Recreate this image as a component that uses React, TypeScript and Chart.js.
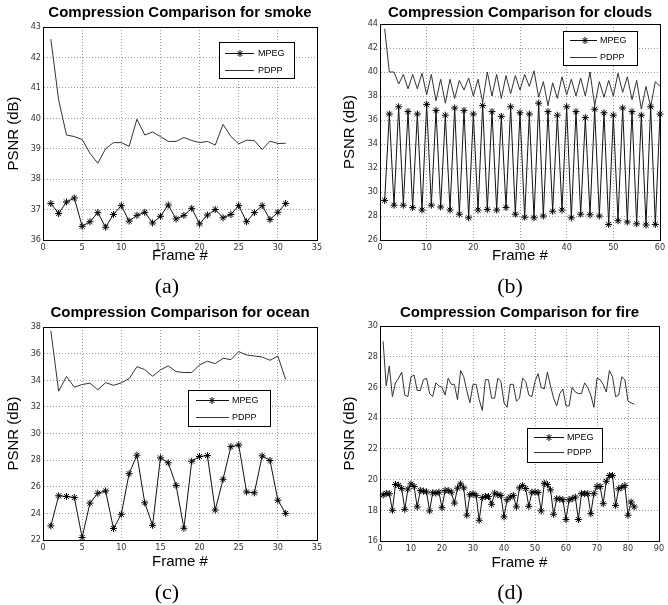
import React, { useEffect, useRef } from 'react';
import { Chart, registerables } from 'chart.js';

Chart.register(...registerables);

const SANS = "'Liberation Sans', Arial, Helvetica, sans-serif";
const TICK_FONT = "'Liberation Sans Narrow', 'DejaVu Sans Condensed', 'Liberation Sans', Arial, sans-serif";
const SERIF = "'Liberation Serif', 'Times New Roman', serif";

// ---------- data ----------
const seriesLabels = ['MPEG', 'PDPP'];
const xAxisLabel = 'Frame #';
const yAxisLabel = 'PSNR (dB)';

const smokeTitle = 'Compression Comparison for smoke';
const smokeMPEG = [37.2, 36.87, 37.25, 37.38, 36.45, 36.6, 36.9, 36.42, 36.84, 37.13, 36.62, 36.81, 36.91, 36.56, 36.78, 37.15, 36.69, 36.81, 37.04, 36.53, 36.82, 37.0, 36.73, 36.84, 37.13, 36.6, 36.9, 37.13, 36.67, 36.91, 37.2];
const smokePDPP = [42.6, 40.6, 39.45, 39.4, 39.3, 38.85, 38.52, 39.0, 39.2, 39.2, 39.08, 39.97, 39.45, 39.55, 39.4, 39.24, 39.24, 39.37, 39.27, 39.2, 39.24, 39.12, 39.8, 39.4, 39.16, 39.28, 39.27, 38.97, 39.25, 39.17, 39.18];
const smokeXTicks = [0, 35, 5];
const smokeYTicks = [36, 43, 1];

const cloudsTitle = 'Compression Comparison for clouds';
const cloudsMPEG = [29.3, 36.5, 28.9, 37.1, 28.9, 36.7, 28.7, 36.5, 28.5, 37.3, 28.9, 36.8, 28.75, 36.4, 28.5, 37.0, 28.15, 36.8, 27.85, 36.5, 28.5, 37.2, 28.55, 36.7, 28.5, 36.3, 28.7, 37.1, 28.15, 36.6, 27.9, 36.5, 27.85, 37.4, 28.0, 36.7, 28.4, 36.4, 28.5, 37.1, 27.85, 36.7, 28.15, 36.2, 28.1, 36.9, 28.0, 36.6, 27.3, 36.4, 27.6, 37.0, 27.5, 36.7, 27.35, 36.4, 27.25, 37.1, 27.3, 36.5];
const cloudsPDPP = [43.6, 40.0, 40.0, 39.0, 39.8, 38.6, 39.8, 38.6, 39.9, 38.1, 39.8, 37.6, 39.4, 37.4, 39.4, 37.8, 39.3, 38.5, 39.5, 38.0, 39.4, 37.5, 40.0, 38.0, 39.8, 37.8, 39.7, 38.2, 39.7, 38.5, 39.8, 38.8, 40.1, 37.9, 39.2, 37.2, 39.1, 37.8, 39.6, 38.1, 39.4, 38.0, 39.5, 38.0, 40.0, 37.2, 39.2, 37.9, 39.3, 38.0, 39.9, 38.3, 39.6, 37.7, 39.3, 36.9, 38.8, 37.1, 39.2, 38.8];
const cloudsXTicks = [0, 60, 10];
const cloudsYTicks = [26, 44, 2];

const oceanTitle = 'Compression Comparison for ocean';
const oceanMPEG = [23.06, 25.32, 25.27, 25.19, 22.19, 24.77, 25.51, 25.69, 22.86, 23.93, 26.98, 28.37, 24.79, 23.1, 28.17, 27.8, 26.1, 22.88, 27.92, 28.27, 28.34, 24.25, 26.56, 29.01, 29.14, 25.61, 25.54, 28.32, 27.97, 24.99, 24.0];
const oceanPDPP = [37.72, 33.18, 34.28, 33.48, 33.68, 33.78, 33.28, 33.82, 33.62, 33.8, 34.12, 35.02, 34.8, 34.3, 34.78, 35.08, 34.65, 34.58, 34.58, 35.15, 35.43, 35.25, 35.65, 35.55, 36.15, 35.9, 35.82, 35.75, 35.5, 35.82, 34.05];
const oceanXTicks = [0, 35, 5];
const oceanYTicks = [22, 38, 2];

const fireTitle = 'Compression Comparison for fire';
const fireMPEG = [
  19.0, 19.1, 19.08, 18.0, 19.68, 19.63, 19.42, 18.06, 19.38, 19.72,
  19.55, 18.22, 19.29, 19.25, 19.2, 17.96, 19.14, 19.12, 19.18, 18.17,
  19.29, 19.29, 19.18, 18.47, 19.44, 19.72, 19.46, 17.68, 19.01, 19.08,
  18.97, 17.35, 18.82, 18.9, 18.9, 18.39, 19.12, 19.01, 18.97, 17.57,
  18.69, 18.86, 18.97, 18.22, 19.46, 19.61, 19.42, 18.26, 19.18, 19.18,
  19.16, 17.96, 19.76, 19.68, 19.33, 17.74, 18.75, 18.73, 18.69, 17.4,
  18.69, 18.75, 18.86, 17.4, 19.08, 19.08, 19.08, 17.78, 19.08, 19.55,
  19.55, 18.43, 19.89, 20.26, 20.26, 18.32, 19.4, 19.5, 19.61, 17.68,
  18.54, 18.22,
];
const firePDPP = [
  29.0, 26.1, 27.4, 25.4, 26.3, 26.6, 27.0, 25.5, 25.4, 26.7,
  26.8, 25.8, 25.8, 26.5, 26.6, 25.6, 25.4, 26.3, 26.1, 26.0,
  25.5, 26.6, 26.2, 26.2, 25.2, 27.1, 26.7, 25.8, 25.0, 26.2,
  26.2, 25.2, 24.5, 26.5, 26.5, 25.3, 25.3, 26.6, 26.4, 25.0,
  24.7, 26.2, 26.2, 25.1, 25.3, 26.6, 26.4, 25.5, 25.4, 26.4,
  26.9, 26.0, 25.9, 27.0, 26.1, 25.3, 24.8, 25.6, 25.9, 24.8,
  24.8, 26.0, 25.7, 25.6, 25.6, 26.3, 26.0, 25.5, 24.7, 26.6,
  26.5, 26.2, 25.7, 27.1, 26.7, 25.4, 25.5, 26.7, 26.5, 25.1,
  25.0, 24.9,
];
const fireXTicks = [0, 90, 10];
const fireYTicks = [16, 30, 2];

const captions = ['(a)', '(b)', '(c)', '(d)'];

// frame numbers are the x categories 1..N
const frameNumbers = (n: number) => Array.from({ length: n }, (_, i) => i + 1);

// ---------- layout ----------
type Panel = {
  title: string;
  mpeg: number[];
  pdpp: number[];
  xTicks: number[];
  yTicks: number[];
  caption: string;
  box: { left: number; top: number; width: number; height: number };
  padRight: number;
  yAxisWidth: number;
  xAxisHeight: number;
  titlePad: { top: number; bottom: number };
  yTitlePad: number;
  xTitlePad: number;
  legend: { x: number; y: number; w: number; h: number; rows: number[]; line: number[]; mark: number; text: number };
  captionPos: { x: number; y: number };
};

const panels: Panel[] = [
  {
    title: smokeTitle, mpeg: smokeMPEG, pdpp: smokePDPP, xTicks: smokeXTicks, yTicks: smokeYTicks, caption: captions[0],
    box: { left: 0, top: 0, width: 334, height: 275 },
    padRight: 17, yAxisWidth: 43, xAxisHeight: 35, titlePad: { top: 4, bottom: 5 }, yTitlePad: 5, xTitlePad: 10,
    legend: { x: 219, y: 42, w: 75, h: 36, rows: [53, 70], line: [225, 254], mark: 240, text: 258 },
    captionPos: { x: 167, y: 286 },
  },
  {
    title: cloudsTitle, mpeg: cloudsMPEG, pdpp: cloudsPDPP, xTicks: cloudsXTicks, yTicks: cloudsYTicks, caption: captions[1],
    box: { left: 334, top: 0, width: 334, height: 275 },
    padRight: 8, yAxisWidth: 46, xAxisHeight: 35, titlePad: { top: 4, bottom: 2 }, yTitlePad: 7, xTitlePad: 10,
    legend: { x: 229, y: 31, w: 74, h: 34, rows: [40, 57], line: [236, 263], mark: 251, text: 266 },
    captionPos: { x: 510, y: 286 },
  },
  {
    title: oceanTitle, mpeg: oceanMPEG, pdpp: oceanPDPP, xTicks: oceanXTicks, yTicks: oceanYTicks, caption: captions[2],
    box: { left: 0, top: 300, width: 334, height: 280 },
    padRight: 17, yAxisWidth: 43, xAxisHeight: 40, titlePad: { top: 4, bottom: 5 }, yTitlePad: 5, xTitlePad: 9,
    legend: { x: 188, y: 90, w: 82, h: 36, rows: [100, 117], line: [196, 229], mark: 212, text: 232 },
    captionPos: { x: 167, y: 592 },
  },
  {
    title: fireTitle, mpeg: fireMPEG, pdpp: firePDPP, xTicks: fireXTicks, yTicks: fireYTicks, caption: captions[3],
    box: { left: 334, top: 300, width: 334, height: 280 },
    padRight: 9, yAxisWidth: 46, xAxisHeight: 39, titlePad: { top: 4, bottom: 4 }, yTitlePad: 7, xTitlePad: 8,
    legend: { x: 193, y: 128, w: 75, h: 34, rows: [137, 152], line: [200, 230], mark: 215, text: 233 },
    captionPos: { x: 510, y: 592 },
  },
];

function drawStar(ctx: CanvasRenderingContext2D, x: number, y: number, r: number) {
  const d = r * Math.SQRT1_2;
  ctx.beginPath();
  ctx.moveTo(x - r, y); ctx.lineTo(x + r, y);
  ctx.moveTo(x, y - r); ctx.lineTo(x, y + r);
  ctx.moveTo(x - d, y - d); ctx.lineTo(x + d, y + d);
  ctx.moveTo(x - d, y + d); ctx.lineTo(x + d, y - d);
  ctx.stroke();
}

const matlabBox = {
  id: 'matlabBox',
  afterDatasetsDraw(chart: any, _args: any, opts: any) {
    const { ctx, chartArea: a } = chart;
    ctx.save();
    ctx.setLineDash([]);
    ctx.strokeStyle = '#000';
    ctx.lineWidth = 1;
    const l = Math.round(a.left) + 0.5;
    const t = Math.round(a.top) + 0.5;
    const r = Math.round(a.right) + 0.5;
    const b = Math.round(a.bottom) + 0.5;
    ctx.strokeRect(l, t, r - l, b - t);

    const lg = opts.legend;
    if (lg) {
      ctx.fillStyle = '#fff';
      ctx.fillRect(lg.x, lg.y, lg.w, lg.h);
      ctx.strokeRect(lg.x + 0.5, lg.y + 0.5, lg.w, lg.h);
      ctx.font = `9px ${SANS}`;
      ctx.textAlign = 'left';
      ctx.textBaseline = 'middle';
      opts.labels.forEach((label: string, i: number) => {
        const y = lg.rows[i] + 0.5;
        ctx.strokeStyle = i === 0 ? '#111' : '#333';
        ctx.beginPath();
        ctx.moveTo(lg.line[0], y);
        ctx.lineTo(lg.line[1], y);
        ctx.stroke();
        if (i === 0) {
          ctx.strokeStyle = '#000';
          drawStar(ctx, lg.mark, y, 3.5);
        }
        ctx.fillStyle = '#000';
        ctx.fillText(label, lg.text, y);
      });
    }
    ctx.restore();
  },
};

function PanelChart({ p }: { p: Panel }) {
  const ref = useRef<HTMLCanvasElement>(null);
  useEffect(() => {
    const frames = frameNumbers(p.mpeg.length);
    const tickFont = { family: TICK_FONT, size: 9 };
    const chart = new Chart(ref.current as HTMLCanvasElement, {
      type: 'line',
      data: {
        datasets: [
          {
            label: seriesLabels[0],
            data: frames.map((f, i) => ({ x: f, y: p.mpeg[i] })),
            borderColor: '#111',
            borderWidth: 1,
            pointStyle: 'star',
            pointRadius: 3.5,
            pointBorderColor: '#000',
            pointBackgroundColor: '#000',
            pointBorderWidth: 1,
            tension: 0,
            clip: false,
          } as any,
          {
            label: seriesLabels[1],
            data: frames.map((f, i) => ({ x: f, y: p.pdpp[i] })),
            borderColor: '#333',
            borderWidth: 1,
            pointRadius: 0,
            tension: 0,
            clip: false,
          } as any,
        ],
      },
      plugins: [matlabBox as any],
      options: {
        responsive: false,
        maintainAspectRatio: false,
        animation: false,
        events: [],
        layout: { padding: { left: 0, top: 0, right: p.padRight, bottom: 0 } },
        plugins: {
          legend: { display: false },
          tooltip: { enabled: false },
          title: {
            display: true,
            text: p.title,
            fullSize: false,
            color: '#000',
            font: { family: SANS, size: 15, weight: 'bold', lineHeight: 1.2 },
            padding: p.titlePad,
          },
          matlabBox: { legend: p.legend, labels: seriesLabels },
        } as any,
        scales: {
          x: {
            type: 'linear',
            min: p.xTicks[0],
            max: p.xTicks[1],
            ticks: { stepSize: p.xTicks[2], font: tickFont, color: '#333', padding: 2, maxRotation: 0, autoSkip: false },
            grid: { color: '#999', lineWidth: 1, drawTicks: false },
            border: { display: true, color: '#000', dash: [1, 2] },
            title: {
              display: true, text: xAxisLabel, color: '#000',
              font: { family: SANS, size: 15, lineHeight: 1.2 },
              padding: { top: 0, bottom: p.xTitlePad },
            },
            afterFit: (s: any) => { s.height = p.xAxisHeight; },
          } as any,
          y: {
            type: 'linear',
            min: p.yTicks[0],
            max: p.yTicks[1],
            ticks: { stepSize: p.yTicks[2], font: tickFont, color: '#333', padding: 2 },
            grid: { color: '#999', lineWidth: 1, drawTicks: false },
            border: { display: true, color: '#000', dash: [1, 2] },
            title: {
              display: true, text: yAxisLabel, color: '#000',
              font: { family: SANS, size: 15, lineHeight: 1.2 },
              padding: { top: p.yTitlePad, bottom: 0 },
            },
            afterFit: (s: any) => { s.width = p.yAxisWidth; },
          } as any,
        },
      },
    });
    return () => chart.destroy();
  }, [p]);
  return (
    <canvas
      ref={ref}
      width={p.box.width}
      height={p.box.height}
      style={{ position: 'absolute', left: p.box.left, top: p.box.top, width: p.box.width, height: p.box.height }}
    />
  );
}

export default function App() {
  return (
    <div style={{ position: 'absolute', left: 0, top: 0, width: 668, height: 605, background: '#fff', overflow: 'hidden' }}>
      {panels.map((p, i) => (
        <PanelChart key={i} p={p} />
      ))}
      {panels.map((p, i) => (
        <div
          key={'c' + i}
          style={{
            position: 'absolute', left: p.captionPos.x - 30, top: p.captionPos.y - 13, width: 60, height: 26,
            textAlign: 'center', fontFamily: SERIF, fontSize: 22, lineHeight: '26px', color: '#000',
          }}
        >
          {p.caption}
        </div>
      ))}
    </div>
  );
}
